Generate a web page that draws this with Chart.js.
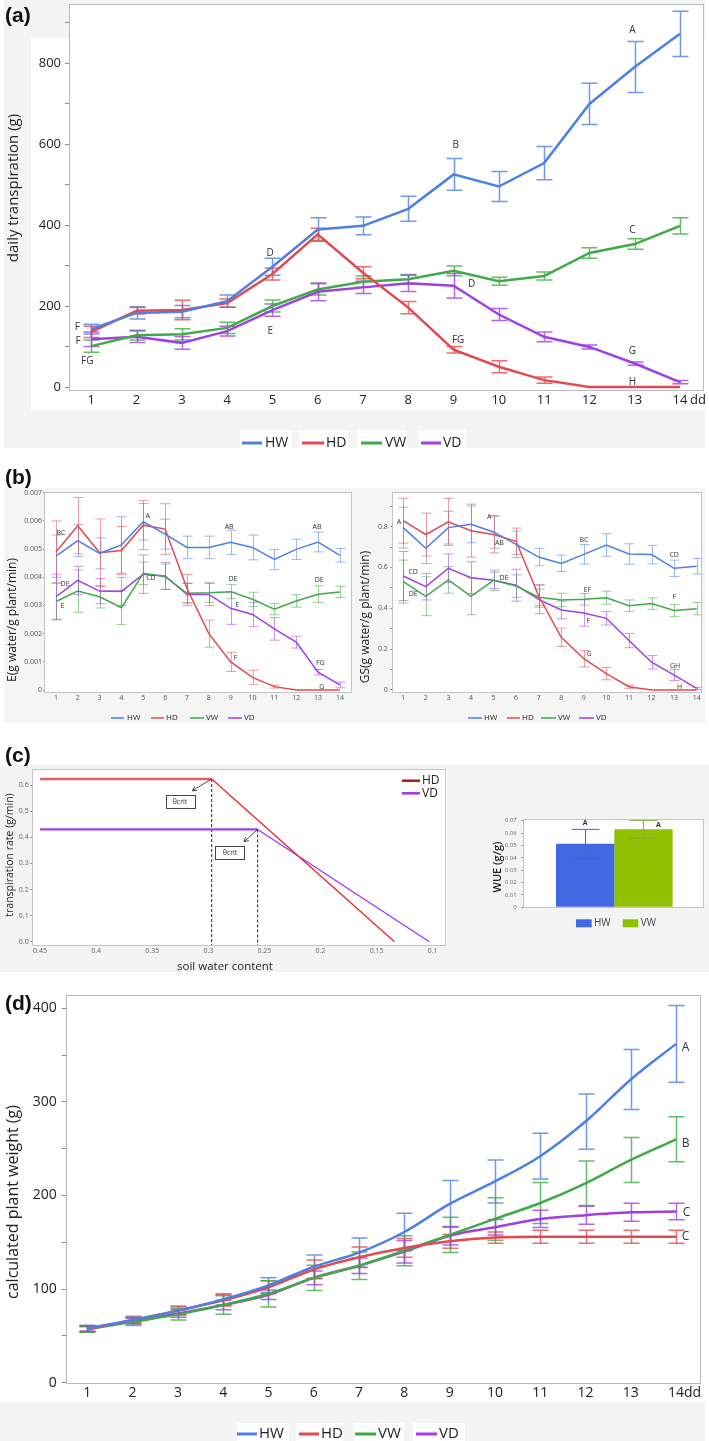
<!DOCTYPE html>
<html><head><meta charset="utf-8">
<script src="https://cdn.jsdelivr.net/npm/chart.js@4.4.1/dist/chart.umd.min.js"></script>
<style>
html,body{margin:0;padding:0;background:#fff;}
body{width:709px;height:1441px;position:relative;overflow:hidden;}
canvas{position:absolute;}
.pl{position:absolute;font:bold 21px "Liberation Sans",Arial,sans-serif;color:#111;line-height:1;}
</style></head><body>
<canvas id="cA" width="709" height="450" style="left:0;top:0"></canvas>
<canvas id="cB1" width="356" height="275" style="left:0;top:455px"></canvas>
<canvas id="cB2" width="353" height="275" style="left:356px;top:455px"></canvas>
<canvas id="cC1" width="470" height="235" style="left:0;top:740px"></canvas>
<canvas id="cC2" width="239" height="235" style="left:470px;top:740px"></canvas>
<canvas id="cD" width="709" height="466" style="left:0;top:975px"></canvas>
<div class="pl" style="left:5px;top:4px">(a)</div>
<div class="pl" style="left:5px;top:466px">(b)</div>
<div class="pl" style="left:5px;top:744px">(c)</div>
<div class="pl" style="left:5px;top:992px">(d)</div>
<script>
// ---------- DATA ----------
const days = [1,2,3,4,5,6,7,8,9,10,11,12,13,14];
const series = ['HW','HD','VW','VD'];

// (a) daily transpiration (g)
const aTicksY = [0,100,200,300,400,500,600,700,800,900];
const aLabelsY = [0,200,400,600,800];
const aHW  = [143,183,186,212,297,389,398,440,525,495,553,699,790,872];
const aHWe = [12,15,15,15,21,29,22,31,39,37,41,51,63,56];
const aHD  = [136,188,190,207,279,377,282,196,92,50,17,0,0,0];
const aHDe = [14,8,24,10,15,15,15,15,8,15,8,0,0,0];
const aVW  = [101,128,130,146,200,241,260,266,287,261,274,331,353,398];
const aVWe = [15,12,14,14,15,14,14,12,12,10,10,13,13,20];
const aVD  = [118,124,109,138,190,235,246,256,250,179,124,99,58,12];
const aVDe = [18,14,16,12,15,22,15,20,30,15,12,5,4,4];
const aLetters = [['A',12.95,880],['B',9.05,598],['C',12.95,388],['D',4.95,331],['E',4.95,139],['D',9.4,254],
  ['FG',9.1,116],['G',12.95,89],['H',12.95,13],['F',0.69,149],['F',0.71,114],['FG',0.91,65]];

// (b) E (g water/g plant/min)
const eTicksY = [0,0.001,0.002,0.003,0.004,0.005,0.006,0.007];
const eHW  = [0.00475,0.0053,0.00485,0.00515,0.00597,0.00553,0.00506,0.00506,0.00524,0.00506,0.00463,0.00499,0.00525,0.00478];
const eHWe = [0.00075,0.00057,0.00055,0.001,0.00065,0.00053,0.0004,0.0004,0.00043,0.00044,0.00036,0.00036,0.00035,0.00024];
const eHD  = [0.0049,0.00583,0.00487,0.00495,0.00585,0.00571,0.0036,0.002,0.001,0.00045,0.00012,0,0,0];
const eHDe = [0.0011,0.001,0.0012,0.00085,0.00087,0.0009,0.0005,0.00048,0.00034,0.00025,0.00005,0,0,0];
const eVW  = [0.00314,0.00351,0.00331,0.00292,0.00414,0.00402,0.00343,0.00345,0.00349,0.00322,0.00287,0.00316,0.0034,0.00348];
const eVWe = [0.00065,0.00075,0.0004,0.0006,0.0004,0.00045,0.00035,0.00035,0.00025,0.00025,0.0002,0.00022,0.0003,0.0002];
const eVD  = [0.00331,0.00389,0.00351,0.0035,0.00411,0.00405,0.00339,0.00339,0.0029,0.00268,0.00217,0.0017,0.00063,0.00018];
const eVDe = [0.0008,0.0005,0.00045,0.0005,0.00068,0.00048,0.0004,0.0004,0.00057,0.00043,0.0004,0.00021,0.0001,0.0001];
const eLetters = [['BC',1.23,0.00558],['A',5.2,0.00618],['AB',8.93,0.00579],['AB',12.95,0.00579],['DE',1.42,0.00377],
  ['E',1.3,0.00299],['CD',5.35,0.00396],['DE',9.1,0.00394],['DE',13.05,0.0039],['E',9.3,0.003],['F',9.22,0.00115],
  ['FG',13.1,0.00097],['G',13.17,0.00012]];

// (b) GS (g water/g plant/min)
const gTicksY = [0,0.1,0.2,0.3,0.4,0.5,0.6,0.7,0.8,0.9];
const gLabelsY = [0,0.2,0.4,0.6,0.8];
const gHW  = [0.795,0.694,0.795,0.811,0.774,0.713,0.651,0.62,0.664,0.71,0.666,0.663,0.596,0.606];
const gHWe = [0.1,0.075,0.08,0.09,0.08,0.065,0.043,0.04,0.048,0.055,0.05,0.045,0.04,0.038];
const gHD  = [0.829,0.761,0.823,0.78,0.761,0.728,0.46,0.258,0.153,0.08,0.016,0,0,0];
const gHDe = [0.11,0.105,0.115,0.13,0.09,0.065,0.055,0.045,0.04,0.03,0.008,0,0,0];
const gVW  = [0.531,0.459,0.539,0.459,0.537,0.509,0.454,0.441,0.444,0.452,0.413,0.423,0.389,0.398];
const gVWe = [0.105,0.095,0.065,0.09,0.05,0.055,0.04,0.033,0.028,0.032,0.028,0.028,0.03,0.03];
const gVD  = [0.558,0.506,0.596,0.55,0.537,0.513,0.444,0.392,0.377,0.351,0.242,0.136,0.073,0.008];
const gVDe = [0.12,0.065,0.07,0.078,0.04,0.078,0.07,0.043,0.065,0.033,0.035,0.033,0.027,0.005];
const gLetters = [['A',0.81,0.821],['A',4.81,0.846],['AB',5.26,0.721],['BC',9.01,0.735],['CD',13.0,0.663],
  ['CD',1.44,0.579],['DE',1.44,0.469],['DE',5.46,0.547],['EF',9.16,0.49],['F',13.01,0.454],['F',9.2,0.338],
  ['G',9.23,0.175],['GH',13.04,0.118],['H',13.24,0.016]];

// (c) transpiration rate vs soil water content
const swcTicks = [0.45,0.4,0.35,0.3,0.25,0.2,0.15,0.1];
const trTicks = [0,0.1,0.2,0.3,0.4,0.5,0.6];
const swcHD = [0.45,0.297,0.134];
const trHD  = [0.623,0.623,0];
const swcVD = [0.45,0.256,0.103];
const trVD  = [0.43,0.43,0];
// (c) WUE bars
const wueGroups = ['HW','VW'];
const wue    = [0.0513,0.0631];
const wueErr = [0.0117,0.0072];
const wueTicks = [0,0.01,0.02,0.03,0.04,0.05,0.06,0.07];

// (d) calculated plant weight (g)
const dTicksY = [0,50,100,150,200,250,300,350,400];
const dLabelsY = [0,100,200,300,400];
const dHW  = [58,67,77,89,104,124,139,161,191,215,242,279,324,362];
const dHWe = [3,4,5,6,8,12.5,15.7,20,25,23,24.5,29.5,32,41];
const dHD  = [57,67,77,88,102,121,134,144,151,155,156,156,156,156];
const dHDe = [3,3,4,6,7,10,11,10,7.4,6,7,7,7,7];
const dVW  = [57,65,73,83,95,112,125,141,158,175,192,213,238,260];
const dVWe = [3,4,6,10,14,13.6,14.7,16,18.8,22.7,22,23.8,24,24];
const dVD  = [58,66,74,83,94,112,125,140,157,166,175,179,182,183];
const dVDe = [3,3,4,5,5,7.4,8.3,12,9.8,8.3,9.2,9.6,9.6,8.8];
const dLetters = [['A',14.21,358],['B',14.21,256],['C',14.23,182],['C',14.21,156]];

// ---------- STYLE / HELPERS ----------
const FONT = '"Open Sans","Noto Sans",sans-serif';
const COL = {HW:'#4d80e4', HD:'#e24a4f', VW:'#40aa46', VD:'#a23fe3'};
function alpha(hex,a){const n=parseInt(hex.slice(1),16);return `rgba(${n>>16},${(n>>8)&255},${n&255},${a})`;}
const pts = arr => days.map((d,i)=>({x:d,y:arr[i]}));

function drawErr(c,o){
  if(!o.cap) return;
  const ctx=c.ctx, ys=c.scales.y;
  ctx.save(); ctx.lineWidth=o.width;
  c.data.datasets.forEach((ds,i)=>{
    if(!ds.errors) return;
    const meta=c.getDatasetMeta(i);
    ctx.strokeStyle=ds.errorColor||alpha(ds.borderColor,o.alpha);
    meta.data.forEach((el,j)=>{
      const e=ds.errors[j]; if(!e) return;
      const v=(typeof ds.data[j]==='object')?ds.data[j].y:ds.data[j];
      const x=Math.round(el.x)+0.5;
      const y1=ys.getPixelForValue(v+e), y2=ys.getPixelForValue(v-e);
      ctx.beginPath(); ctx.moveTo(x,y1); ctx.lineTo(x,y2);
      ctx.moveTo(x-o.cap,y1); ctx.lineTo(x+o.cap,y1);
      ctx.moveTo(x-o.cap,y2); ctx.lineTo(x+o.cap,y2); ctx.stroke();
    });
  });
  ctx.restore();
}
const errbars={id:'errbars',
  beforeDatasetsDraw(c,a,o){ if(o.layer!=='after') drawErr(c,o); },
  afterDatasetsDraw(c,a,o){ if(o.layer==='after') drawErr(c,o); }
};
const letters={id:'letters', afterDatasetsDraw(c,a,o){
  if(!o.size) return; const ctx=c.ctx; ctx.save(); ctx.fillStyle=o.color||'#333';
  ctx.font=`${o.weight||'normal'} ${o.size}px ${FONT}`; ctx.textAlign='center'; ctx.textBaseline='middle';
  (o.items||[]).forEach(([t,x,y])=>ctx.fillText(t,c.scales.x.getPixelForValue(x),c.scales.y.getPixelForValue(y)));
  (o.bars||[]).forEach(([t,di,y,dx])=>{const el=c.getDatasetMeta(di).data[0]; ctx.fillText(t, el.x+dx, c.scales.y.getPixelForValue(y));});
  ctx.restore();
}};
const crit={id:'crit', afterDatasetsDraw(c,a,o){
  if(!o.items) return; const ctx=c.ctx, xs=c.scales.x, ys=c.scales.y; ctx.save();
  o.items.forEach(it=>{
    const fx=xs.getPixelForValue(it.from[0]), fy=ys.getPixelForValue(it.from[1]);
    const tx=xs.getPixelForValue(it.to[0]), ty=ys.getPixelForValue(it.to[1]);
    ctx.strokeStyle='#333'; ctx.lineWidth=0.9;
    ctx.beginPath(); ctx.moveTo(fx,fy); ctx.lineTo(tx,ty); ctx.stroke();
    const ang=Math.atan2(ty-fy,tx-fx), h=5;
    ctx.beginPath(); ctx.moveTo(tx-h*Math.cos(ang-0.5),ty-h*Math.sin(ang-0.5)); ctx.lineTo(tx,ty);
    ctx.lineTo(tx-h*Math.cos(ang+0.5),ty-h*Math.sin(ang+0.5)); ctx.stroke();
    const bx=xs.getPixelForValue(it.box[0]), by=ys.getPixelForValue(it.box[1]);
    ctx.fillStyle='#fff'; ctx.fillRect(bx-14.5,by-6.5,29,13);
    ctx.strokeStyle='#444'; ctx.lineWidth=1; ctx.strokeRect(Math.round(bx-14.5)+0.5,Math.round(by-6.5)+0.5,29,13);
    ctx.fillStyle='#333'; ctx.font=`7px ${FONT}`; ctx.textAlign='center'; ctx.textBaseline='middle';
    ctx.fillText(it.text,bx,by+0.5);
  });
  ctx.restore();
}};
const decor={id:'decor',
  beforeDraw(c,a,o){
    const ctx=c.ctx; ctx.save();
    (o.bg||[]).forEach(r=>{ctx.fillStyle=r[4];ctx.fillRect(r[0],r[1],r[2],r[3]);});
    const ar=c.chartArea; ctx.fillStyle='#fff'; ctx.fillRect(ar.left,ar.top,ar.right-ar.left,ar.bottom-ar.top);
    ctx.restore();
  },
  afterDraw(c,a,o){
    const ctx=c.ctx, ar=c.chartArea; ctx.save();
    if(o.frame){ctx.strokeStyle=o.frame; ctx.lineWidth=1;
      ctx.strokeRect(Math.round(ar.left)-0.5,Math.round(ar.top)+0.5,Math.round(ar.right-ar.left),Math.round(ar.bottom-ar.top));}
    (o.texts||[]).forEach(t=>{ctx.save(); ctx.translate(t.x,t.y); if(t.rot) ctx.rotate(t.rot);
      ctx.font=`${t.w||'normal'} ${t.s}px ${FONT}`; ctx.fillStyle=t.c||'#222'; ctx.textAlign=t.a||'center';
      ctx.textBaseline='middle'; ctx.fillText(t.t,0,0); ctx.restore();});
    if(o.legend){ const L=o.legend; ctx.font=`${L.s}px ${FONT}`; ctx.textBaseline='middle'; ctx.textAlign='left';
      L.items.forEach(([x1,x2,tx,di,yy])=>{ const ds=c.data.datasets[di]; const y=(yy==null)?L.y:yy;
        if(L.box){ctx.fillStyle=ds.backgroundColor; ctx.fillRect(x1,y-L.bh/2,x2-x1,L.bh);}
        else {ctx.strokeStyle=ds.legendColor||ds.borderColor; ctx.lineWidth=L.lw; ctx.beginPath(); ctx.moveTo(x1,y); ctx.lineTo(x2,y); ctx.stroke();}
        ctx.fillStyle=L.c||'#222'; ctx.fillText(ds.label,tx,y);});
    }
    ctx.restore();
  }
};
Chart.register(decor,errbars,letters,crit);

function area(W,H,l,t,r,b){
  const z=s=>{s.paddingLeft=0;s.paddingRight=0;s.paddingTop=0;s.paddingBottom=0;};
  return {padding:{left:0,top:t,right:W-r,bottom:0}, y:s=>{s.width=l;z(s);}, x:s=>{s.height=H-b;z(s);}};
}
function linScale(o){
  return {type:'linear', min:o.min, max:o.max, reverse:!!o.reverse, afterFit:o.fit,
    afterBuildTicks:s=>{s.ticks=o.ticks.map(v=>({value:v}));},
    ticks:{autoSkip:false, maxRotation:0, minRotation:0, padding:o.pad, color:o.color||'#222',
      font:{family:FONT,size:o.size}, callback:o.cb||(v=>String(v))},
    grid:{display:true, drawOnChartArea:false, drawTicks:(o.tl||0)>0, tickLength:o.tl||0, tickColor:o.tc||'#8a8a8a', tickWidth:1},
    border:{display:false}};
}
function ln(label, arr, err, w, extra){
  const col=COL[label];
  return Object.assign({label, data:pts(arr), errors:err, borderColor:col, backgroundColor:col, borderWidth:w,
    pointRadius:0, pointHoverRadius:0, tension:0, fill:false}, extra||{});
}
function mk(id,type,data,A,scales,plugins){
  return new Chart(document.getElementById(id),{type,data,options:{responsive:false,animation:false,devicePixelRatio:1,events:[],
    layout:{padding:A.padding}, scales, plugins:Object.assign({legend:{display:false},tooltip:{enabled:false}},plugins)}});
}
const ROT=-Math.PI/2;

// ---------- (a) ----------
{
  const A=area(709,450,70,4,704,390);
  mk('cA','line',{datasets:[ln('HW',aHW,aHWe,2.5),ln('HD',aHD,aHDe,2.5),ln('VW',aVW,aVWe,2.5),ln('VD',aVD,aVDe,2.5)]},A,
    {x:linScale({min:0.53,max:14.53,ticks:days,size:13,pad:2,tl:0,fit:A.x}),
     y:linScale({min:-7.4,max:945.7,ticks:aTicksY,size:13,pad:4,tl:5,fit:A.y,cb:v=>aLabelsY.includes(v)?String(v):''})},
    {errbars:{cap:8,width:1.5,alpha:0.8},
     letters:{size:10,color:'#333',items:aLetters},
     decor:{bg:[[4,0,701,448,'#f4f4f4'],[31,38,674,372,'#fff'],[240,430,52,20,'#fff'],[299,430,49,20,'#fff'],[357,430,48,20,'#fff'],[419,430,47,20,'#fff']],
       frame:'#b8b8b8',
       texts:[{t:'daily transpiration (g)',x:14,y:188,s:15,rot:ROT},{t:'dd',x:690,y:400,s:13,a:'left'}],
       legend:{y:443,s:14,lw:3,items:[[242,262,265,0],[302,324,326,1],[361,382,385,2],[421,441,443,3]]}}});
}
// ---------- (b) left ----------
{
  const A=area(356,275,45,37.3,351.7,237);
  mk('cB1','line',{datasets:[ln('HW',eHW,eHWe,1.5),ln('HD',eHD,eHDe,1.5),ln('VW',eVW,eVWe,1.5),ln('VD',eVD,eVDe,1.5)]},A,
    {x:linScale({min:0.5,max:14.54,ticks:days,size:7,pad:2,tl:0,color:'#555',fit:A.x}),
     y:linScale({min:-0.00007,max:0.007015,ticks:eTicksY,size:7,pad:1,tl:2,color:'#555',fit:A.y,cb:v=>v===0?'0':v.toFixed(3)})},
    {errbars:{cap:5,width:1,alpha:0.55},
     letters:{size:7,color:'#333',items:eLetters},
     decor:{bg:[[4,33,352,235,'#f5f5f5']], frame:'#c4c4c4',
       texts:[{t:'E(g water/g plant/min)',x:13,y:165,s:12,rot:ROT}],
       legend:{y:263,s:8,lw:1.5,items:[[111,124,127,0],[151,164,166,1],[190,204,206,2],[228,242,244,3]]}}});
}
// ---------- (b) right ----------
{
  const A=area(353,275,37.3,37.3,346,237);
  mk('cB2','line',{datasets:[ln('HW',gHW,gHWe,1.5),ln('HD',gHD,gHDe,1.5),ln('VW',gVW,gVWe,1.5),ln('VD',gVD,gVDe,1.5)]},A,
    {x:linScale({min:0.56,max:14.235,ticks:days,size:7,pad:2,tl:0,color:'#555',fit:A.x}),
     y:linScale({min:-0.0098,max:0.968,ticks:gTicksY,size:7,pad:2.5,tl:3,color:'#555',fit:A.y,cb:v=>gLabelsY.includes(v)?String(v):''})},
    {errbars:{cap:5,width:1,alpha:0.55},
     letters:{size:7,color:'#333',items:gLetters},
     decor:{bg:[[0,33,349,235,'#f5f5f5']], frame:'#c4c4c4',
       texts:[{t:'GS(g water/g plant/min)',x:10,y:162,s:12,rot:ROT}],
       legend:{y:263,s:8,lw:1.5,items:[[112,126,128,0],[151,164,166,1],[185,200,202,2],[223,238,240,3]]}}});
}
// ---------- (c) left ----------
{
  const A=area(470,235,33.3,29.3,446.7,205.7);
  const yMin=-0.0153;
  const seg=(thick,thin,ct,cn)=>({borderWidth:ctx=>ctx.p0DataIndex===0?thick:thin, borderColor:ctx=>ctx.p0DataIndex===0?ct:cn});
  mk('cC1','line',{datasets:[
      {label:'HD',data:swcHD.map((x,i)=>({x,y:trHD[i]})),borderColor:'#e8262b',legendColor:'#c0141e',borderWidth:1.3,pointRadius:0,segment:seg(2.5,1.3,'#e65e62','#e8262b')},
      {label:'VD',data:swcVD.map((x,i)=>({x,y:trVD[i]})),borderColor:'#9d35f0',legendColor:'#9d35f0',borderWidth:1.3,pointRadius:0,segment:seg(2.2,1.3,'#a040ee','#9d35f0')},
      {label:'',data:[{x:swcHD[1],y:trHD[1]},{x:swcHD[1],y:yMin}],borderColor:'#222',borderWidth:1,borderDash:[3,2],pointRadius:0},
      {label:'',data:[{x:swcVD[1],y:trVD[1]},{x:swcVD[1],y:yMin}],borderColor:'#222',borderWidth:1,borderDash:[3,2],pointRadius:0}]},A,
    {x:linScale({min:0.0875,max:0.456,reverse:true,ticks:swcTicks,size:7,pad:1,tl:0,color:'#666',fit:A.x,cb:v=>String(+v.toFixed(2))}),
     y:linScale({min:yMin,max:0.6605,ticks:trTicks,size:7,pad:1.6,tl:3,color:'#666',fit:A.y,cb:v=>v.toFixed(1)})},
    {crit:{items:[{text:'\u03b8crit',from:[swcHD[1],trHD[1]],to:[0.3143,0.5785],box:[0.3252,0.539]},
                  {text:'\u03b8crit',from:[swcVD[1],trVD[1]],to:[0.2682,0.383],box:[0.2807,0.34]}]},
     decor:{bg:[[0,25,470,207,'#f4f4f4']], frame:'#c4c4c4',
       texts:[{t:'transpiration rate (g/min)',x:10,y:115,s:10.5,rot:ROT},{t:'soil water content',x:225,y:226.7,s:11.5}],
       legend:{s:12,lw:2.5,items:[[402,420,422,0,40.7],[402,420,422,1,53.3]]}}});
}
// ---------- (c) right (WUE) ----------
{
  const A=area(239,235,54.3,79,234.3,167.3);
  mk('cC2','bar',{labels:[''],datasets:[
      {label:wueGroups[0],data:[wue[0]],errors:[wueErr[0]],backgroundColor:'#4169e1',borderColor:'#4169e1',errorColor:'#3d66d6',categoryPercentage:0.648,barPercentage:1},
      {label:wueGroups[1],data:[wue[1]],errors:[wueErr[1]],backgroundColor:'#8fc100',borderColor:'#8fc100',errorColor:'#85a83a',categoryPercentage:0.648,barPercentage:1}]},A,
    {x:{type:'category',afterFit:A.x,ticks:{display:false},grid:{display:false},border:{display:false}},
     y:linScale({min:0,max:0.0714,ticks:wueTicks,size:6,pad:4.6,tl:3,color:'#666',fit:A.y,cb:v=>v===0?'0':v.toFixed(2)})},
    {errbars:{cap:14,width:1,alpha:1,layer:'after'},
     letters:{size:7,weight:'bold',color:'#333',bars:[['A',0,0.0679,0],['A',1,0.0665,15]]},
     decor:{bg:[[0,25,239,207,'#f4f4f4']], frame:'#c4c4c4',
       texts:[{t:'WUE (g/g)',x:28,y:127,s:11,w:'600',rot:ROT}],
       legend:{s:10,box:true,bh:8,c:'#444',items:[[106,121.7,124,0,183.3],[152.7,168.3,170.7,1,183.3]]}}});
}
// ---------- (d) ----------
{
  const A=area(709,466,66.7,20,701,407.7);
  const sm={cubicInterpolationMode:'monotone'};
  mk('cD','line',{datasets:[ln('HW',dHW,dHWe,2.5,sm),ln('HD',dHD,dHDe,2.5,sm),ln('VW',dVW,dVWe,2.5,sm),ln('VD',dVD,dVDe,2.5,sm)]},A,
    {x:linScale({min:0.545,max:14.55,ticks:days,size:14,pad:2,tl:0,fit:A.x}),
     y:linScale({min:0,max:414.2,ticks:dTicksY,size:14,pad:5,tl:5,fit:A.y,cb:v=>dLabelsY.includes(v)?String(v):''})},
    {errbars:{cap:8,width:1.5,alpha:0.8},
     letters:{size:12,color:'#333',items:dLetters},
     decor:{bg:[[0,427,705,39,'#f4f4f4'],[237,448,52,18,'#fff'],[296,448,47,18,'#fff'],[354,448,50,18,'#fff'],[413,448,52,18,'#fff']],
       frame:'#b8b8b8',
       texts:[{t:'calculated plant weight (g)',x:13,y:227,s:16,rot:ROT},{t:'dd',x:684,y:418,s:14,a:'left'}],
       legend:{y:459,s:15,lw:3,items:[[237,257,259,0],[299,319,321,1],[355,376,378,2],[416,437,439,3]]}}});
}
</script>
</body></html>
